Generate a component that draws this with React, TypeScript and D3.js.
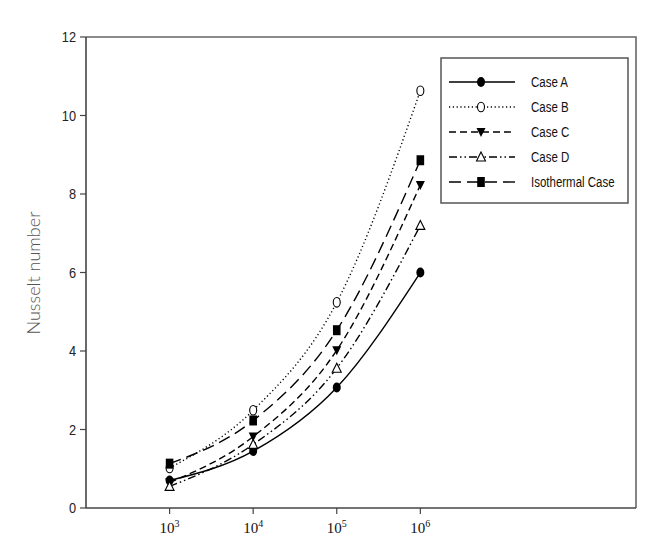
import React from 'react';
import * as d3 from 'd3';

// x values (Rayleigh number exponents)
const exponents = [3, 4, 5, 6];
const caseA = [0.7, 1.45, 3.07, 6.0];
const caseB = [1.02, 2.49, 5.24, 10.63];
const caseC = [0.65, 1.82, 4.02, 8.23];
const caseD = [0.55, 1.62, 3.56, 7.2];
const isothermal = [1.13, 2.23, 4.53, 8.86];
const yTicks = [0, 2, 4, 6, 8, 10, 12];

const seriesList = [
  { name: 'Case A', values: caseA, dash: null, marker: 'circleFilled' },
  { name: 'Case B', values: caseB, dash: '1.2,2.6', marker: 'circleOpen' },
  { name: 'Case C', values: caseC, dash: '7,4', marker: 'triDown' },
  { name: 'Case D', values: caseD, dash: '8,3,1.5,3,1.5,3', marker: 'triUp' },
  { name: 'Isothermal Case', values: isothermal, dash: '12,6', marker: 'square' },
];

const W = 650;
const H = 554;
const left = 86, right = 636, top = 37, bottom = 508;
const narrowFont = "'Liberation Sans', Arial, sans-serif";

function Marker({ type, x, y }: { type: string; x: number; y: number }) {
  if (type === 'circleFilled') return <ellipse cx={x} cy={y} rx={4} ry={5} fill="#000" />;
  if (type === 'circleOpen') return <ellipse cx={x} cy={y} rx={3.5} ry={4.8} fill="#fff" stroke="#000" strokeWidth={1.1} />;
  if (type === 'triDown') return <path d={`M${x - 4.5},${y - 4} L${x + 4.5},${y - 4} L${x},${y + 5} Z`} fill="#000" />;
  if (type === 'triUp') return <path d={`M${x - 4.5},${y + 4} L${x + 4.5},${y + 4} L${x},${y - 5} Z`} fill="#fff" stroke="#000" strokeWidth={1.1} />;
  return <rect x={x - 3.8} y={y - 5} width={7.6} height={10} fill="#000" />;
}

export default function App() {
  const x = d3.scaleLinear().domain([2, 8.58]).range([left, right]);
  const y = d3.scaleLinear().domain([0, 12]).range([bottom, top]);
  const line = d3.line<number>()
    .x((_, i) => x(exponents[i]))
    .y(d => y(d))
    .curve(d3.curveMonotoneX);

  return (
    <svg width={W} height={H} style={{ position: 'absolute', left: 0, top: 0, background: '#fff' }}>
      {/* frame */}
      <path d={`M${left},${top} L${right},${top} L${right},${bottom}`} fill="none" stroke="#666" strokeWidth={1.6} />
      <line x1={left} x2={right} y1={bottom} y2={bottom} stroke="#444" strokeWidth={1.6} />
      <line x1={left} x2={left} y1={top} y2={bottom} stroke="#444" strokeWidth={1.6} />

      {/* y axis */}
      {yTicks.map(t => (
        <g key={t}>
          <line x1={left - 6} x2={left} y1={y(t)} y2={y(t)} stroke="#444" strokeWidth={1.2} />
          <text transform={`translate(${left - 10},${y(t)}) scale(0.85,1)`} dy="0.35em" textAnchor="end"
            fontFamily={narrowFont} fontSize={15} fill="#222">{t}</text>
        </g>
      ))}
      <text transform={`translate(40,${273}) rotate(-90)`} textAnchor="middle"
        fontFamily="Lato, 'Open Sans', sans-serif" fontWeight={300} fontSize={18} fill="#555">Nusselt number</text>

      {/* x axis */}
      {exponents.map(e => (
        <g key={e}>
          <line x1={x(e)} x2={x(e)} y1={bottom} y2={bottom + 6} stroke="#444" strokeWidth={1.2} />
          <text x={x(e)} y={bottom + 25} textAnchor="middle" fontFamily="'Liberation Serif', 'Times New Roman', serif" fontSize={15} fill="#111">
            10<tspan fontSize={10} dy={-6}>{e}</tspan>
          </text>
        </g>
      ))}

      {/* series */}
      {seriesList.map(s => (
        <g key={s.name}>
          <path d={line(s.values) || ''} fill="none" stroke="#000" strokeWidth={1.4} strokeDasharray={s.dash || undefined} />
          {s.values.map((v, i) => <Marker key={i} type={s.marker} x={x(exponents[i])} y={y(v)} />)}
        </g>
      ))}

      {/* legend */}
      <rect x={441} y={58} width={187} height={145} fill="#fff" stroke="#555" strokeWidth={1.5} />
      {seriesList.map((s, i) => {
        const ly = 82 + i * 25;
        return (
          <g key={s.name}>
            <line x1={449} x2={515} y1={ly} y2={ly} stroke="#000" strokeWidth={1.4} strokeDasharray={s.dash || undefined} />
            <Marker type={s.marker} x={481} y={ly} />
            <text transform={`translate(531,${ly}) scale(0.82,1)`} dy="0.35em" fontFamily={narrowFont} fontSize={14} fill="#111">{s.name}</text>
          </g>
        );
      })}
    </svg>
  );
}
